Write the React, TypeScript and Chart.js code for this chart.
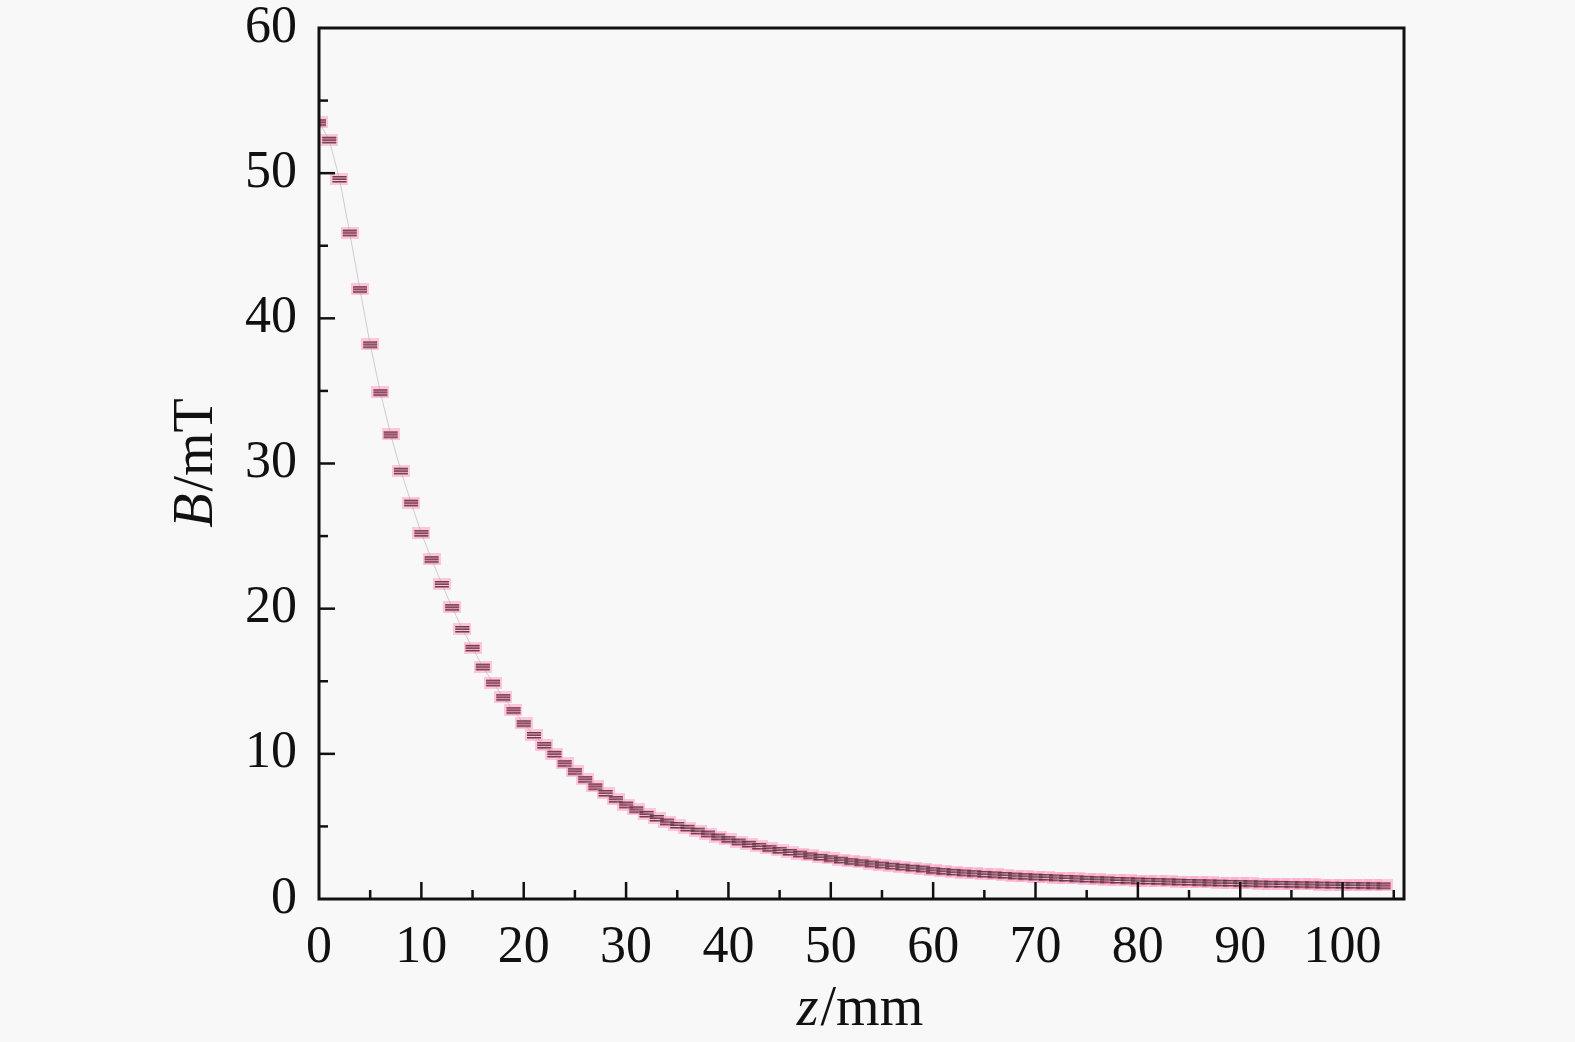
import React, { useEffect, useRef } from "react";
import { Chart, registerables } from "chart.js";

Chart.register(...registerables);

const zValues = [
  0, 1, 2, 3, 4, 5, 6, 7, 8, 9, 10, 11, 12, 13, 14, 15, 16, 17, 18, 19, 20,
  21, 22, 23, 24, 25, 26, 27, 28, 29, 30, 31, 32, 33, 34, 35, 36, 37, 38, 39, 40,
  41, 42, 43, 44, 45, 46, 47, 48, 49, 50, 51, 52, 53, 54, 55, 56, 57, 58, 59, 60,
  61, 62, 63, 64, 65, 66, 67, 68, 69, 70, 71, 72, 73, 74, 75, 76, 77, 78, 79, 80,
  81, 82, 83, 84, 85, 86, 87, 88, 89, 90, 91, 92, 93, 94, 95, 96, 97, 98, 99, 100,
  101, 102, 103, 104,
];

const bValues = [
  53.5, 52.3, 49.6, 45.9, 42.0, 38.2, 34.9, 32.0, 29.5, 27.3, 25.2,
  23.4, 21.7, 20.1, 18.6, 17.3, 16.0, 14.9, 13.9, 13.0, 12.1,
  11.3, 10.6, 10.0, 9.35, 8.8, 8.25, 7.75, 7.3, 6.88, 6.5,
  6.17, 5.86, 5.58, 5.33, 5.1, 4.9, 4.7, 4.5, 4.3, 4.12,
  3.95, 3.8, 3.65, 3.5, 3.37, 3.24, 3.12, 3.0, 2.9, 2.8,
  2.7, 2.6, 2.52, 2.44, 2.36, 2.29, 2.22, 2.15, 2.09, 1.98,
  1.92, 1.87, 1.82, 1.77, 1.73, 1.69, 1.65, 1.61, 1.57, 1.54,
  1.51, 1.48, 1.45, 1.42, 1.39, 1.36, 1.34, 1.31, 1.29, 1.27,
  1.25, 1.23, 1.21, 1.19, 1.17, 1.15, 1.14, 1.12, 1.11, 1.09,
  1.08, 1.06, 1.05, 1.04, 1.02, 1.01, 1.0, 0.99, 0.98, 0.97,
  0.96, 0.95, 0.94, 0.93,
];

const xTicks = [0, 10, 20, 30, 40, 50, 60, 70, 80, 90, 100];
const yTicks = [0, 10, 20, 30, 40, 50, 60];

const FONT = "'Liberation Serif', 'DejaVu Serif', serif";
const BG = "#f8f8f8";
const TICK_SIZE = 52;
const TITLE_SIZE = 56;

function makeMarker(lineColor: string, halo: string | null) {
  const c = document.createElement("canvas");
  c.width = 18;
  c.height = 12;
  const ctx = c.getContext("2d")!;
  if (halo) {
    ctx.fillStyle = halo;
    ctx.fillRect(0, 0, 18, 12);
  }
  ctx.fillStyle = lineColor;
  for (const y of [3, 5.5, 8]) ctx.fillRect(2, y, 14, 1.4);
  return c;
}

const framePlugin = {
  id: "framePlugin",
  beforeDraw(chart: any) {
    const { ctx, width, height } = chart;
    ctx.save();
    ctx.fillStyle = BG;
    ctx.fillRect(0, 0, width, height);
    ctx.restore();
  },
  afterDraw(chart: any) {
    const { ctx, chartArea } = chart;
    const xs = chart.scales.x;
    const ys = chart.scales.y;
    const { left, right, top, bottom } = chartArea;
    ctx.save();
    ctx.strokeStyle = "#111";
    ctx.lineWidth = 2.5;
    for (let v = 0; v <= 105; v += 5) {
      const px = xs.getPixelForValue(v);
      if (px <= left + 1 || px >= right - 1) continue;
      const len = v % 10 === 0 ? 17 : 9;
      ctx.beginPath();
      ctx.moveTo(px, bottom);
      ctx.lineTo(px, bottom - len);
      ctx.stroke();
    }
    for (let v = 0; v <= 60; v += 5) {
      const py = ys.getPixelForValue(v);
      if (py <= top + 1 || py >= bottom - 1) continue;
      const len = v % 10 === 0 ? 16 : 9;
      ctx.beginPath();
      ctx.moveTo(left, py);
      ctx.lineTo(left + len, py);
      ctx.stroke();
    }
    ctx.lineWidth = 3;
    ctx.strokeRect(left, top, right - left, bottom - top);

    const drawTitle = (italic: string, rest: string) => {
      ctx.font = `italic ${TITLE_SIZE}px ${FONT}`;
      const w1 = ctx.measureText(italic).width;
      ctx.font = `${TITLE_SIZE}px ${FONT}`;
      const w2 = ctx.measureText(rest).width;
      const start = -(w1 + w2) / 2;
      ctx.fillStyle = "#111";
      ctx.textBaseline = "middle";
      ctx.textAlign = "left";
      ctx.font = `italic ${TITLE_SIZE}px ${FONT}`;
      ctx.fillText(italic, start, 0);
      ctx.font = `${TITLE_SIZE}px ${FONT}`;
      ctx.fillText(rest, start + w1 + 2, 0);
    };
    ctx.save();
    ctx.translate(859, 1010);
    drawTitle("z", "/mm");
    ctx.restore();
    ctx.save();
    ctx.translate(197, 464);
    ctx.rotate(-Math.PI / 2);
    drawTitle("B", "/mT");
    ctx.restore();
    ctx.restore();
  },
};

export default function App() {
  const ref = useRef<HTMLCanvasElement>(null);
  useEffect(() => {
    if (!ref.current) return;
    const pts = zValues.map((z, i) => ({ x: z, y: bValues[i] }));
    const darkMarker = makeMarker("rgba(60,60,60,0.72)", null);
    const pinkMarker = makeMarker("rgba(220,40,95,0.85)", "rgba(255,165,200,0.6)");
    const chart = new Chart(ref.current, {
      type: "line",
      data: {
        datasets: [
          {
            label: "measured",
            data: pts,
            order: 1,
            borderColor: "rgba(170,170,170,0.55)",
            borderWidth: 1,
            pointStyle: darkMarker as any,
            pointRadius: 6,
            tension: 0,
          },
          {
            label: "simulated",
            data: pts,
            order: 2,
            showLine: false,
            borderColor: "rgba(230,70,120,0.45)",
            borderWidth: 2,
            pointStyle: pinkMarker as any,
            pointRadius: 6,
            tension: 0,
          },
        ],
      },
      options: {
        animation: false,
        responsive: false,
        layout: { padding: { left: 0, right: 171, top: 28, bottom: 0 } },
        plugins: { legend: { display: false }, tooltip: { enabled: false } },
        scales: {
          x: {
            type: "linear",
            min: 0,
            max: 106,
            grid: { display: false, drawTicks: false },
            border: { display: false },
            afterBuildTicks: (s: any) => {
              s.ticks = xTicks.map((v) => ({ value: v }));
            },
            afterFit: (s: any) => {
              s.height = 143;
              s.paddingLeft = 0;
              s.paddingRight = 0;
            },
            ticks: {
              color: "#111",
              font: { family: FONT, size: TICK_SIZE },
              padding: 18,
              maxRotation: 0,
              autoSkip: false,
            },
          },
          y: {
            type: "linear",
            min: 0,
            max: 60,
            grid: { display: false, drawTicks: false },
            border: { display: false },
            afterBuildTicks: (s: any) => {
              s.ticks = yTicks.map((v) => ({ value: v }));
            },
            afterFit: (s: any) => {
              s.width = 319;
              s.paddingTop = 0;
              s.paddingBottom = 0;
            },
            ticks: {
              color: "#111",
              font: { family: FONT, size: TICK_SIZE },
              padding: 22,
              autoSkip: false,
            },
          },
        },
      },
      plugins: [framePlugin],
    });
    return () => chart.destroy();
  }, []);
  return (
    <div style={{ position: "fixed", left: 0, top: 0, width: 1575, height: 1042, background: BG }}>
      <canvas ref={ref} width={1575} height={1042} style={{ width: 1575, height: 1042, display: "block" }} />
    </div>
  );
}
